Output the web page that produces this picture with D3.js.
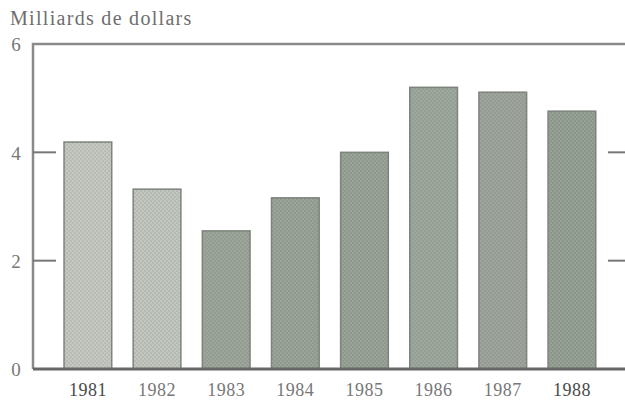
<!DOCTYPE html>
<html>
<head>
<meta charset="utf-8">
<script src="https://cdn.jsdelivr.net/npm/d3@7"></script>
<style>
body{margin:0;background:#fff;}
</style>
</head>
<body>
<script>
var annees=["1981","1982","1983","1984","1985","1986","1987","1988"];
var valeurs=[4.19,3.32,2.55,3.16,4.0,5.2,5.11,4.76];
var graduations=[0,2,4,6];
var teintes=["#b7bbb4","#b4b9b2","#929c91","#8f998e","#8e988d","#949e93","#939b92","#8a968a"];

var svg=d3.select("body").append("svg")
	.attr("width",625)
	.attr("height",402);

var x=d3.scaleBand().domain(annees).range([42.6,617.2]).padding(0.31);
var y=d3.scaleLinear().domain([0,6]).range([369,44]);

//motif de points
var defs=svg.append("defs");
teintes.forEach(function(c,i){
	var p=defs.append("pattern").attr("id","trame"+i)
		.attr("patternUnits","userSpaceOnUse")
		.attr("width",4).attr("height",4);
	p.append("rect").attr("width",4).attr("height",4).style("fill",c);
	p.append("circle").attr("cx",1).attr("cy",1).attr("r",0.8).style("fill","#d9dcd6").style("opacity",i<2?0.9:0.35);
	p.append("circle").attr("cx",3).attr("cy",3).attr("r",0.8).style("fill","#d9dcd6").style("opacity",i<2?0.9:0.35);
});

//titre
svg.append("text")
	.attr("x",10).attr("y",25)
	.style("font-family","Liberation Serif")
	.style("font-size","20px")
	.style("letter-spacing","1.3px")
	.style("fill","#6e6e6e")
	.text("Milliards de dollars");

//cadre
svg.append("path")
	.attr("d","M626,"+y(6)+"H33V"+y(0))
	.style("fill","none")
	.style("stroke","#8a8a8a")
	.style("stroke-width",2.5);

//graduations
graduations.forEach(function(g){
	svg.append("text")
		.attr("x",16).attr("y",y(g)+3)
		.attr("text-anchor","middle")
		.attr("dominant-baseline","middle")
		.style("font-family","Liberation Serif")
		.style("font-size","19px")
		.style("fill","#777")
		.text(g);
	if(g>0&&g<6){
		svg.append("line").attr("x1",33).attr("x2",56).attr("y1",y(g)).attr("y2",y(g))
			.style("stroke","#777").style("stroke-width",2);
		svg.append("line").attr("x1",608).attr("x2",626).attr("y1",y(g)).attr("y2",y(g))
			.style("stroke","#777").style("stroke-width",2);
	}
});

//barres
svg.selectAll("rect.barre").data(valeurs).enter().append("rect")
	.attr("class","barre")
	.attr("x",function(d,i){return x(annees[i]);})
	.attr("y",function(d){return y(d);})
	.attr("width",x.bandwidth())
	.attr("height",function(d){return y(0)-y(d);})
	.style("fill",function(d,i){return "url(#trame"+i+")";})
	.style("stroke","#7d847c")
	.style("stroke-width",1.5);

//axe du bas
svg.append("line")
	.attr("x1",33).attr("x2",626).attr("y1",y(0)).attr("y2",y(0))
	.style("stroke","#666")
	.style("stroke-width",3);

svg.selectAll("text.annee").data(annees).enter().append("text")
	.attr("class","annee")
	.attr("x",function(d){return x(d)+x.bandwidth()/2;})
	.attr("y",396)
	.attr("text-anchor","middle")
	.style("font-family","Liberation Serif")
	.style("font-size","18px")
	.style("letter-spacing","0.5px")
	.style("fill",function(d,i){return (i==0||i==7)?"#4a4a4a":"#777";})
	.text(function(d){return d;});
</script>
</body>
</html>
